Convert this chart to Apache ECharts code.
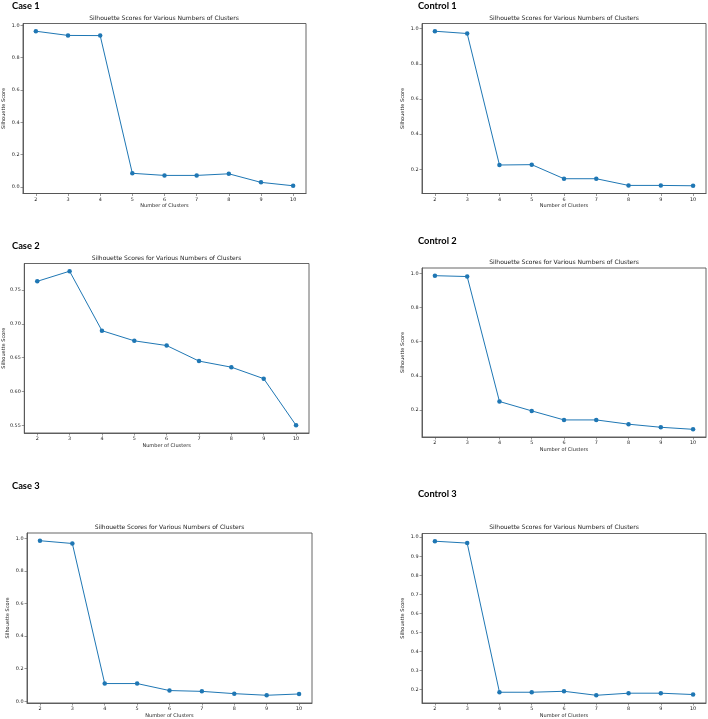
<!DOCTYPE html>
<html>
<head>
<meta charset="utf-8">
<script src="https://cdn.jsdelivr.net/npm/echarts@6/dist/echarts.min.js"></script>
<style>
html,body{margin:0;padding:0;background:#fff;}
#chart{width:708px;height:719px;}
</style>
</head>
<body>
<div id="chart"></div>
<script>
// ---- data ----
const clusters = [2, 3, 4, 5, 6, 7, 8, 9, 10];
const case1 = [0.963, 0.937, 0.936, 0.085, 0.072, 0.072, 0.082, 0.029, 0.008];
const control1 = [0.985, 0.972, 0.225, 0.227, 0.147, 0.147, 0.109, 0.109, 0.107];
const case2 = [0.763, 0.778, 0.690, 0.675, 0.668, 0.645, 0.636, 0.619, 0.550];
const control2 = [0.987, 0.982, 0.250, 0.195, 0.142, 0.142, 0.117, 0.099, 0.087];
const case3 = [0.986, 0.969, 0.109, 0.109, 0.066, 0.061, 0.047, 0.037, 0.045];
const control3 = [0.979, 0.969, 0.186, 0.186, 0.191, 0.170, 0.181, 0.181, 0.174];
const ticksA = [0, 0.2, 0.4, 0.6, 0.8, 1.0];
const ticksB = [0.2, 0.4, 0.6, 0.8, 1.0];
const ticksCase2 = [0.55, 0.60, 0.65, 0.70, 0.75];
const ticksControl3 = [0.2, 0.3, 0.4, 0.5, 0.6, 0.7, 0.8, 0.9, 1.0];
const panelLabels = ['Case 1', 'Control 1', 'Case 2', 'Control 2', 'Case 3', 'Control 3'];
const chartTitle = 'Silhouette Scores for Various Numbers of Clusters';
const xName = 'Number of Clusters';
const yName = 'Silhouette Score';

// ---- layout ----
const panels = [
  {label: panelLabels[0], data: case1, ticks: ticksA, dec: 1, L: 22, R: 306, T: 23.5, B: 193.5, tY: 18.3, lx: 12, ly: 6},
  {label: panelLabels[1], data: control1, ticks: ticksB, dec: 1, L: 422, R: 706, T: 23.5, B: 193.5, tY: 18.3, lx: 418, ly: 6},
  {label: panelLabels[2], data: case2, ticks: ticksCase2, dec: 2, L: 24, R: 309, T: 263.5, B: 433, tY: 258.3, lx: 12, ly: 246},
  {label: panelLabels[3], data: control2, ticks: ticksB, dec: 1, L: 422, R: 706, T: 268, B: 437, tY: 262, lx: 418, ly: 241},
  {label: panelLabels[4], data: case3, ticks: ticksA, dec: 1, L: 27, R: 312, T: 533, B: 703, tY: 527.7, lx: 12, ly: 486},
  {label: panelLabels[5], data: control3, ticks: ticksControl3, dec: 1, L: 422, R: 706, T: 533.5, B: 703, tY: 527.7, lx: 418, ly: 494}
];

const FONT = 'DejaVu Sans';
const AX = '#555';
const grid = [], xAxis = [], yAxis = [], series = [], graphic = [];
panels.forEach((p, i) => {
  const lo = Math.min(...p.data), hi = Math.max(...p.data);
  const m = (hi - lo) * 0.05;
  grid.push({left: p.L, top: p.T, width: p.R - p.L, height: p.B - p.T, show: true,
    borderColor: AX, borderWidth: 0.9, backgroundColor: 'transparent'});
  xAxis.push({type: 'value', gridIndex: i, min: 1.6, max: 10.4,
    name: xName, nameLocation: 'middle', nameGap: 10,
    nameTextStyle: {fontFamily: FONT, fontSize: 5, color: '#222'},
    axisLine: {show: true, onZero: false, lineStyle: {color: AX, width: 0.9}},
    axisTick: {show: true, inside: false, length: 2.5, customValues: clusters, lineStyle: {color: AX, width: 0.6}},
    axisLabel: {customValues: clusters, fontFamily: FONT, fontSize: 4.9, color: '#222', margin: 3.5},
    splitLine: {show: false}});
  yAxis.push({type: 'value', gridIndex: i, min: lo - m, max: hi + m,
    name: yName, nameLocation: 'middle', nameGap: 17, nameRotate: 90,
    nameTextStyle: {fontFamily: FONT, fontSize: 5, color: '#222'},
    axisLine: {show: true, onZero: false, lineStyle: {color: AX, width: 0.9}},
    axisTick: {show: true, inside: false, length: 2.5, customValues: p.ticks, lineStyle: {color: AX, width: 0.6}},
    axisLabel: {customValues: p.ticks, fontFamily: FONT, fontSize: 4.9, color: '#222', margin: 3.5,
      formatter: v => v.toFixed(p.dec)},
    splitLine: {show: false}});
  series.push({type: 'line', xAxisIndex: i, yAxisIndex: i,
    data: clusters.map((c, k) => [c, p.data[k]]),
    symbol: 'circle', symbolSize: 4.5, showSymbol: true,
    lineStyle: {color: '#1f77b4', width: 1},
    itemStyle: {color: '#1f77b4'}, silent: true, animation: false});
  graphic.push({type: 'text', x: (p.L + p.R) / 2, y: p.tY,
    style: {text: chartTitle, font: '6px "DejaVu Sans"', fill: '#222', align: 'center', verticalAlign: 'middle'}});
  graphic.push({type: 'text', x: p.lx, y: p.ly,
    style: {text: p.label, font: 'bold 9.3px Lato', fill: '#000', align: 'left', verticalAlign: 'middle'}});
});

const chart = echarts.init(document.getElementById('chart'), null, {renderer: 'canvas'});
chart.setOption({animation: false, backgroundColor: '#fff', grid, xAxis, yAxis, series, graphic});
</script>
</body>
</html>
